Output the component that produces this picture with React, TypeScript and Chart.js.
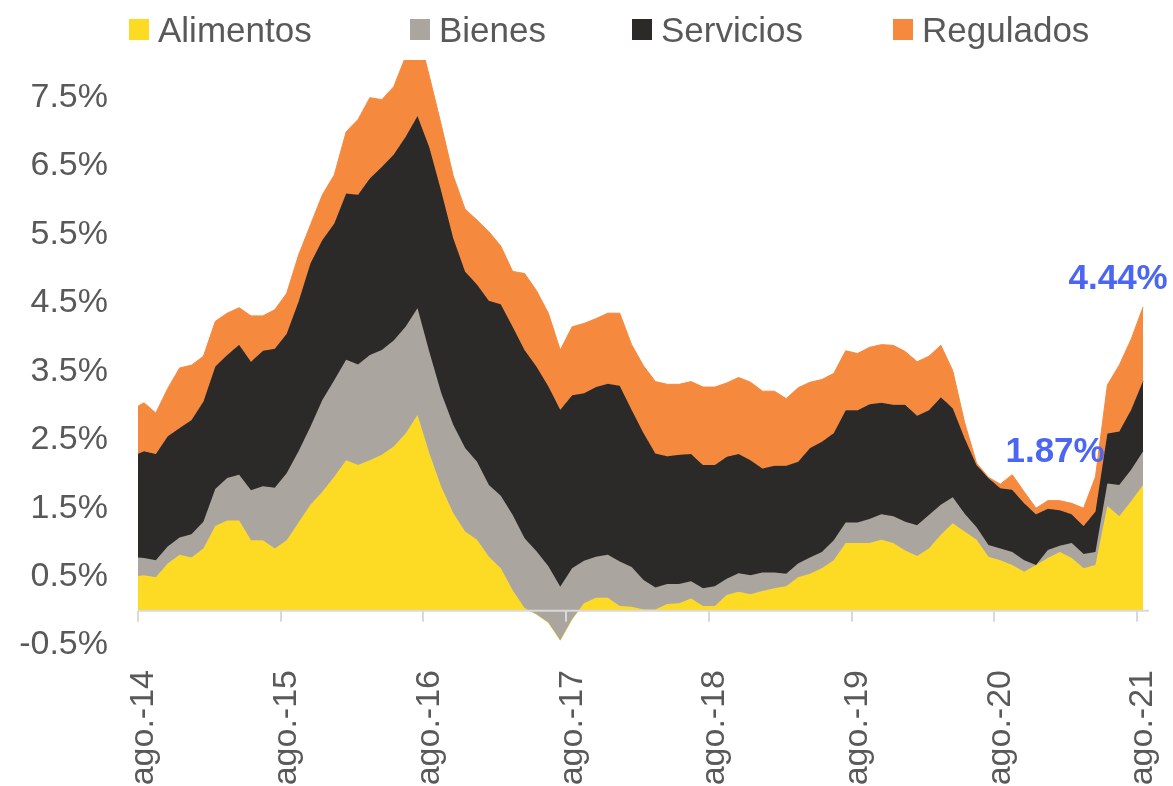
import React, { useEffect, useRef } from "react";
import { Chart, registerables } from "chart.js";

Chart.register(...registerables);

const FONT = "'Liberation Sans', Arial, Helvetica, sans-serif";
const TEXT_COLOR = "#595959";

const seriesNames = ["Alimentos", "Bienes", "Servicios", "Regulados"];
const seriesColors = ["#FDDA24", "#ABA59F", "#2C2A29", "#F5893E"];

// Monthly contributions (percentage points), from jul-14 (x = -1) to ago-21 (x = 84); ago-14 is x = 0
const alimentos = [
  0.5, 0.52, 0.49, 0.69, 0.82, 0.78,
  0.91, 1.24, 1.32, 1.32, 1.03, 1.03, 0.91, 1.03, 1.29, 1.55, 1.74, 1.96,
  2.2, 2.13, 2.2, 2.28, 2.4, 2.59, 2.86, 2.3, 1.81, 1.43, 1.16, 1.04,
  0.79, 0.62, 0.3, 0.04, -0.05, -0.17, -0.43, -0.12, 0.11, 0.19, 0.19, 0.07,
  0.06, 0.02, 0.02, 0.1, 0.11, 0.18, 0.07, 0.07, 0.23, 0.28, 0.24, 0.29,
  0.33, 0.36, 0.49, 0.54, 0.62, 0.74, 0.99, 0.99, 0.99, 1.04, 0.99, 0.88,
  0.8, 0.91, 1.11, 1.28, 1.16, 1.04, 0.79, 0.74, 0.67, 0.57, 0.67, 0.77,
  0.86, 0.77, 0.62, 0.67, 1.53, 1.38, 1.6, 1.84,
];
const bienes = [
  0.29, 0.25, 0.25, 0.25, 0.25, 0.34,
  0.39, 0.54, 0.62, 0.67, 0.73, 0.79, 0.89, 0.98, 1.04, 1.14, 1.34, 1.41,
  1.47, 1.47, 1.54, 1.53, 1.55, 1.56, 1.56, 1.48, 1.37, 1.29, 1.22, 1.14,
  1.05, 1.06, 1.1, 1.02, 0.92, 0.82, 0.78, 0.74, 0.62, 0.6, 0.63, 0.65,
  0.58, 0.43, 0.32, 0.29, 0.28, 0.25, 0.26, 0.29, 0.24, 0.27, 0.28, 0.27,
  0.23, 0.18, 0.2, 0.24, 0.24, 0.29, 0.3, 0.3, 0.35, 0.37, 0.39, 0.42,
  0.45, 0.49, 0.44, 0.38, 0.26, 0.18, 0.17, 0.17, 0.19, 0.17, 0.0, 0.12,
  0.09, 0.22, 0.21, 0.19, 0.33, 0.46, 0.46, 0.49,
];
const servicios = [
  1.47, 1.56, 1.55, 1.61, 1.6, 1.67,
  1.76, 1.79, 1.8, 1.9, 1.88, 1.98, 2.03, 2.04, 2.19, 2.39, 2.34, 2.29,
  2.43, 2.48, 2.58, 2.68, 2.72, 2.78, 2.81, 2.99, 2.95, 2.73, 2.58, 2.59,
  2.69, 2.8, 2.75, 2.75, 2.7, 2.63, 2.59, 2.53, 2.45, 2.48, 2.5, 2.57,
  2.3, 2.15, 1.96, 1.87, 1.89, 1.86, 1.8, 1.77, 1.78, 1.74, 1.68, 1.52,
  1.56, 1.58, 1.49, 1.6, 1.61, 1.57, 1.64, 1.64, 1.68, 1.63, 1.63, 1.71,
  1.6, 1.53, 1.57, 1.3, 1.1, 0.91, 0.98, 0.88, 0.91, 0.83, 0.74, 0.6,
  0.52, 0.42, 0.41, 0.59, 0.73, 0.78, 0.88, 1.03,
];
const regulados = [
  0.68, 0.71, 0.6, 0.7, 0.88, 0.8,
  0.66, 0.66, 0.61, 0.54, 0.67, 0.51, 0.57, 0.59, 0.68, 0.56, 0.66, 0.71,
  0.9, 1.1, 1.18, 0.98, 0.99, 1.17, 1.27, 1.04, 0.97, 0.91, 0.91, 0.94,
  1.01, 0.85, 0.81, 1.12, 1.11, 1.07, 0.87, 1.0, 1.02, 1.0, 1.03, 1.06,
  0.95, 0.98, 1.05, 1.05, 1.03, 1.06, 1.14, 1.14, 1.08, 1.12, 1.14, 1.13,
  1.09, 0.98, 1.08, 0.96, 0.91, 0.87, 0.87, 0.83, 0.83, 0.85, 0.87, 0.78,
  0.79, 0.79, 0.76, 0.55, 0.23, 0.03, 0.01, 0.06, 0.22, 0.17, 0.09, 0.12,
  0.14, 0.16, 0.26, 0.51, 0.71, 0.97, 1.03, 1.08,
];
const firstMonthX = -1; // jul-14

const xTickLabels = ["ago.-14", "ago.-15", "ago.-16", "ago.-17", "ago.-18", "ago.-19", "ago.-20", "ago.-21"];
const xTickValues = [0, 12, 24, 36, 48, 60, 72, 84];
const xTickMarks = [-0.5, 11.5, 23.5, 35.5, 47.5, 59.5, 71.5, 83.5];
const yTickValues = [-0.5, 0.5, 1.5, 2.5, 3.5, 4.5, 5.5, 6.5, 7.5];

const calloutTexts = ["1.87%", "4.44%"];
const calloutX = [72.43, 77.73];
const calloutY = [2.175, 4.705];

const seriesValues = [alimentos, bienes, servicios, regulados];

const zeroAxisPlugin = {
  id: "zeroAxis",
  afterDatasetsDraw(chart: any) {
    const { ctx, chartArea, scales } = chart;
    const y0 = scales.y.getPixelForValue(0);
    ctx.save();
    ctx.strokeStyle = "#D9D9D9";
    ctx.lineWidth = 2;
    ctx.beginPath();
    ctx.moveTo(chartArea.left, y0);
    ctx.lineTo(chartArea.right, y0);
    ctx.stroke();
    ctx.beginPath();
    for (const v of xTickMarks) {
      const x = Math.round(scales.x.getPixelForValue(v));
      ctx.moveTo(x, y0);
      ctx.lineTo(x, y0 + 11);
    }
    ctx.stroke();
    ctx.restore();
  },
  afterDraw(chart: any) {
    const { ctx, scales } = chart;
    ctx.save();
    ctx.font = `bold 35px ${FONT}`;
    ctx.fillStyle = "#4A66F2";
    ctx.textAlign = "left";
    ctx.textBaseline = "alphabetic";
    calloutTexts.forEach((t, k) => {
      ctx.fillText(t, scales.x.getPixelForValue(calloutX[k]), scales.y.getPixelForValue(calloutY[k]));
    });
    ctx.restore();
  },
};

export default function App() {
  const canvasRef = useRef<HTMLCanvasElement | null>(null);

  useEffect(() => {
    if (!canvasRef.current) return;
    const cumulative: number[][] = [];
    seriesValues.forEach((vals, s) => {
      cumulative.push(vals.map((v, k) => (s === 0 ? v : cumulative[s - 1][k] + v)));
    });
    const datasets = seriesNames.map((name, s) => ({
      label: name,
      data: cumulative[s].map((v, k) => ({ x: k + firstMonthX, y: v })),
      backgroundColor: seriesColors[s],
      borderColor: seriesColors[s],
      borderWidth: 1,
      pointRadius: 0,
      tension: 0,
      fill: s === 0 ? "origin" : "-1",
      order: seriesNames.length - s,
    }));

    const chart = new Chart(canvasRef.current, {
      type: "line",
      data: { datasets },
      plugins: [zeroAxisPlugin],
      options: {
        animation: false,
        responsive: false,
        devicePixelRatio: 1,
        layout: { autoPadding: false, padding: { top: 60, right: 24, left: 0, bottom: 0 } },
        plugins: {
          legend: { display: false },
          tooltip: { enabled: false },
        },
        scales: {
          x: {
            type: "linear",
            min: -0.5,
            max: 84.5,
            grid: { display: false, drawTicks: false },
            border: { display: false },
            ticks: {
              autoSkip: false,
              minRotation: 90,
              maxRotation: 90,
              padding: 25,
              color: TEXT_COLOR,
              font: { family: FONT, size: 34 },
              callback: (v: any) => {
                const idx = xTickValues.indexOf(Number(v));
                return idx >= 0 ? xTickLabels[idx] : "";
              },
            },
            afterBuildTicks: (s: any) => {
              s.ticks = xTickValues.map((value) => ({ value }));
            },
            afterFit: (s: any) => {
              s.height = 141;
              s.paddingLeft = 0;
              s.paddingRight = 0;
            },
          },
          y: {
            type: "linear",
            min: -0.5,
            max: 8.05,
            grid: { display: false, drawTicks: false },
            border: { display: false },
            ticks: {
              autoSkip: false,
              padding: 30,
              color: TEXT_COLOR,
              font: { family: FONT, size: 34 },
              callback: (v: any) => `${Number(v).toFixed(1)}%`,
            },
            afterBuildTicks: (s: any) => {
              s.ticks = yTickValues.map((value) => ({ value }));
            },
            afterFit: (s: any) => {
              s.width = 138;
              s.paddingTop = 0;
              s.paddingBottom = 0;
            },
          },
        },
      } as any,
    });
    return () => chart.destroy();
  }, []);

  const legendLeft = [129, 410, 632, 893];

  return (
    <div
      style={{
        position: "fixed",
        left: 0,
        top: 0,
        width: 1173,
        height: 786,
        background: "#ffffff",
        overflow: "hidden",
      }}
    >
      <canvas ref={canvasRef} width={1173} height={786} style={{ position: "absolute", left: 0, top: 0, width: 1173, height: 786 }} />
      {seriesNames.map((name, s) => (
        <div
          key={name}
          style={{
            position: "absolute",
            left: legendLeft[s],
            top: 11.5,
            height: 36,
            display: "flex",
            alignItems: "center",
            whiteSpace: "nowrap",
            fontFamily: FONT,
            fontSize: 35,
            lineHeight: "36px",
            color: TEXT_COLOR,
          }}
        >
          <span style={{ display: "inline-block", width: 20, height: 21, background: seriesColors[s], marginRight: 9 }} />
          <span>{name}</span>
        </div>
      ))}
    </div>
  );
}
